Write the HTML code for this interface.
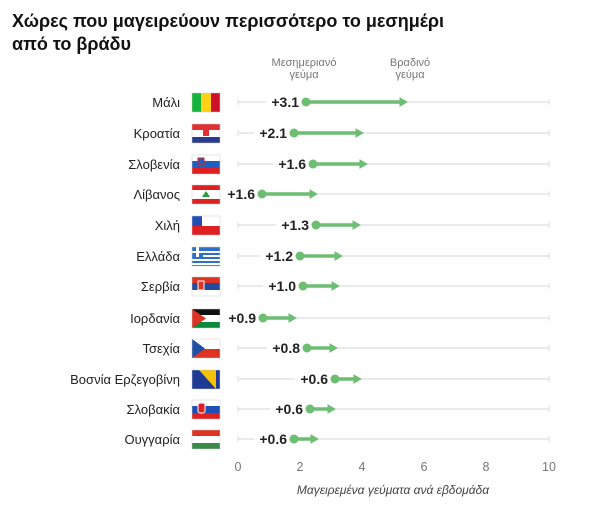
<!DOCTYPE html>
<html><head><meta charset="utf-8"><style>
body{margin:0;background:#fff;}
svg{display:block;font-family:"Liberation Sans","DejaVu Sans",sans-serif;}
.n{font-size:13px;fill:#222;text-anchor:end}
.v{font-size:14px;font-weight:bold;fill:#222;text-anchor:end}
.t{font-size:11px;fill:#777;text-anchor:middle}
</style></head><body>
<svg width="600" height="517" viewBox="0 0 600 517">
<text x="12" y="27" font-size="18" font-weight="bold" fill="#111">Χώρες που μαγειρεύουν περισσότερο το μεσημέρι</text>
<text x="12" y="50" font-size="18" font-weight="bold" fill="#111">από το βράδυ</text>
<text class="t" x="304" y="66">Μεσημεριανό</text><text class="t" x="304" y="78">γεύμα</text>
<text class="t" x="410" y="66">Βραδινό</text><text class="t" x="410" y="78">γεύμα</text>
<defs>
<marker id="ar" markerWidth="3" markerHeight="3" refX="1" refY="1.4" orient="auto" markerUnits="strokeWidth"><path d="M0,0 L2.4,1.4 L0,2.8 Z" fill="#6dbd72"/></marker>
</defs>
<g id="rows"></g>
<g class="t" font-size="12.5" fill="#666">
<text x="238" y="471" font-size="12.5">0</text><text x="300" y="471" font-size="12.5">2</text><text x="362" y="471" font-size="12.5">4</text><text x="424" y="471" font-size="12.5">6</text><text x="486" y="471" font-size="12.5">8</text><text x="549" y="471" font-size="12.5">10</text>
</g>
<text x="393" y="494" font-size="12" font-style="italic" fill="#444" text-anchor="middle">Μαγειρεμένα γεύματα ανά εβδομάδα</text>
</svg>
<script>
var d=[["Μάλι",102,306,408,"+3.1"],["Κροατία",133,294,364,"+2.1"],["Σλοβενία",164,313,368,"+1.6"],["Λίβανος",194,262,318,"+1.6"],["Χιλή",225,316,361,"+1.3"],["Ελλάδα",256,300,343,"+1.2"],["Σερβία",286,303,340,"+1.0"],["Ιορδανία",318,263,297,"+0.9"],["Τσεχία",348,307,338,"+0.8"],["Βοσνία Ερζεγοβίνη",379,335,362,"+0.6"],["Σλοβακία",409,310,336,"+0.6"],["Ουγγαρία",439,294,319,"+0.6"]];
var fl=[
'<rect width="9" height="19" fill="#14b53a"/><rect x="9" width="10" height="19" fill="#fcd116"/><rect x="19" width="9" height="19" fill="#ce1126"/>',
'<rect width="28" height="6" fill="#e03030"/><rect y="6" width="28" height="7" fill="#fff"/><rect y="13" width="28" height="6" fill="#2a3b8f"/><rect x="11" y="4" width="6" height="8" fill="#d33"/>',
'<rect width="28" height="6" fill="#fff"/><rect y="6" width="28" height="7" fill="#1f5fc4"/><rect y="13" width="28" height="6" fill="#e02020"/><rect x="6" y="3" width="6" height="7" fill="#1f5fc4" stroke="#e02020"/>',
'<rect width="28" height="5" fill="#e02020"/><rect y="5" width="28" height="9" fill="#fff"/><rect y="14" width="28" height="5" fill="#e02020"/><path d="M14,6 L18,12 L10,12Z" fill="#2a9a3a"/>',
'<rect width="28" height="10" fill="#fff"/><rect y="10" width="28" height="9" fill="#e02020"/><rect width="10" height="10" fill="#1f4fb4"/>',
'<rect width="28" height="19" fill="#2e70c6"/><rect y="4" width="28" height="2" fill="#fff"/><rect y="8" width="28" height="2" fill="#fff"/><rect y="12" width="28" height="2" fill="#fff"/><rect y="16" width="28" height="2" fill="#fff"/><rect width="11" height="10" fill="#2e70c6"/><rect x="4" width="3" height="10" fill="#fff"/><rect y="4" width="11" height="2" fill="#fff"/>',
'<rect width="28" height="6" fill="#d32"/><rect y="6" width="28" height="7" fill="#234a9e"/><rect y="13" width="28" height="6" fill="#fff"/><rect x="6" y="4" width="6" height="9" fill="#d32" stroke="#fff"/>',
'<rect width="28" height="6" fill="#111"/><rect y="6" width="28" height="7" fill="#fff"/><rect y="13" width="28" height="6" fill="#0a8a3a"/><path d="M0,0 L14,9.5 L0,19Z" fill="#d32"/>',
'<rect width="28" height="10" fill="#fff"/><rect y="10" width="28" height="9" fill="#d32"/><path d="M0,0 L13,9.5 L0,19Z" fill="#1f4fa4"/>',
'<rect width="28" height="19" fill="#1f3a94"/><path d="M7,0 L24,0 L24,19Z" fill="#f6c200"/>',
'<rect width="28" height="6" fill="#fff"/><rect y="6" width="28" height="7" fill="#1f4fb4"/><rect y="13" width="28" height="6" fill="#e02020"/><rect x="6" y="3" width="7" height="10" rx="2" fill="#e02020" stroke="#fff"/>',
'<rect width="28" height="6" fill="#d32"/><rect y="6" width="28" height="7" fill="#fff"/><rect y="13" width="28" height="6" fill="#3c8a4a"/>'];
var s='';
d.forEach(function(r,i){var y=r[1];
s+='<line x1="238" x2="549" y1="'+y+'" y2="'+y+'" stroke="#ddd" stroke-width="1.2"/>';
s+='<line x1="238" x2="238" y1="'+(y-3)+'" y2="'+(y+3)+'" stroke="#ddd"/><line x1="549" x2="549" y1="'+(y-3)+'" y2="'+(y+3)+'" stroke="#ddd"/>';
s+='<text class="n" x="180" y="'+(y+5)+'">'+r[0]+'</text>';
s+='<g transform="translate(192,'+(y-9)+')">'+fl[i]+'<rect width="28" height="19" fill="none" stroke="#ccc" stroke-width="0.5"/></g>';
s+='<rect x="'+(r[2]-40)+'" y="'+(y-9)+'" width="'+36+'" height="18" fill="#fff"/>';
s+='<line x1="'+r[2]+'" x2="'+(r[3]-5)+'" y1="'+y+'" y2="'+y+'" stroke="#6dbd72" stroke-width="3.5" marker-end="url(#ar)"/>';
s+='<circle cx="'+r[2]+'" cy="'+y+'" r="4.5" fill="#6dbd72"/>';
s+='<text class="v" x="'+(r[2]-7)+'" y="'+(y+5)+'">'+r[4]+'</text>';});
document.getElementById('rows').innerHTML=s;
</script>
</body></html>
